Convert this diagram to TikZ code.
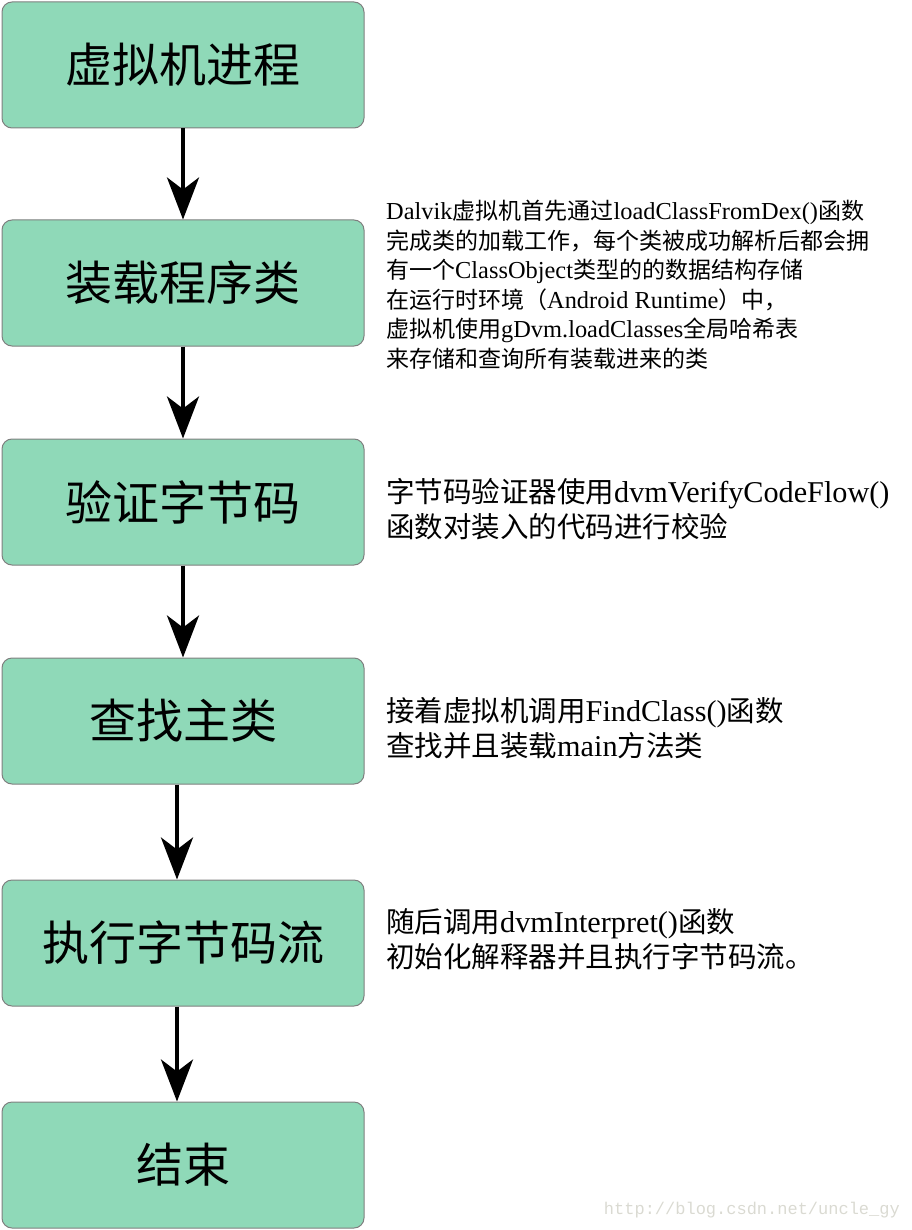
\documentclass[tikz,border=0pt]{standalone}
\usepackage{fontspec}
\setmainfont{Noto Sans CJK SC}
\newfontfamily\lat[Scale=1.06]{Liberation Serif}
\newfontfamily\mono{Liberation Mono}
\usetikzlibrary{arrows.meta}
\definecolor{boxfill}{HTML}{8FD9B8}
\definecolor{boxline}{HTML}{7F7F7F}
\definecolor{wm}{HTML}{DADAD2}
\tikzset{
  stepbox/.style={draw=boxline, line width=1pt, fill=boxfill, rounded corners=10pt,
    minimum width=362pt, minimum height=126pt, inner sep=0pt,
    font=\fontsize{47pt}{47pt}\selectfont},
  flowarrow/.style={line width=4pt, -{Stealth[length=42pt,width=32pt,inset=12pt]}},
  smalltext/.style={anchor=west, align=left, inner sep=0pt,
    font=\fontsize{23pt}{29.5pt}\selectfont},
  bigtext/.style={anchor=west, align=left, inner sep=0pt,
    font=\fontsize{28.5pt}{35pt}\selectfont},
}
\begin{document}
\begin{tikzpicture}[x=1pt,y=-1pt]
\useasboundingbox (0,0) rectangle (911,1230);
\node[stepbox] (b1) at (183,65) {虚拟机进程};
\node[stepbox] (b2) at (183,283) {装载程序类};
\node[stepbox] (b3) at (183,502) {验证字节码};
\node[stepbox] (b4) at (183,721) {查找主类};
\node[stepbox] (b5) at (183,943) {执行字节码流};
\node[stepbox] (b6) at (183,1165) {结束};

\draw[flowarrow] (b1.south) -- (b2.north);
\draw[flowarrow] (b2.south) -- (b3.north);
\draw[flowarrow] (b3.south) -- (b4.north);
\draw[flowarrow] ([xshift=-6pt]b4.south) -- ([xshift=-6pt]b5.north);
\draw[flowarrow] ([xshift=-6pt]b5.south) -- ([xshift=-6pt]b6.north);

\node[smalltext] (t2) at (386,285) {{\lat Dalvik}虚拟机首先通过{\lat loadClassFromDex()}函数\\
完成类的加载工作，每个类被成功解析后都会拥\\
有一个{\lat ClassObject}类型的的数据结构存储\\
在运行时环境（{\lat Android Runtime}）中，\\
虚拟机使用{\lat gDvm.loadClasses}全局哈希表\\
来存储和查询所有装载进来的类};

\node[bigtext] (t3) at (386,509.5) {字节码验证器使用{\lat dvmVerifyCodeFlow()}\\
函数对装入的代码进行校验};

\node[bigtext] (t4) at (386,728.5) {接着虚拟机调用{\lat FindClass()}函数\\
查找并且装载{\lat main}方法类};

\node[bigtext] (t5) at (386,939.5) {随后调用{\lat dvmInterpret()}函数\\
初始化解释器并且执行字节码流。};

\node[anchor=east, inner sep=0pt, text=wm, font=\mono\fontsize{17pt}{17pt}\selectfont] (wm) at (900,1210) {http://blog.csdn.net/uncle\_gy};
\end{tikzpicture}
\end{document}
